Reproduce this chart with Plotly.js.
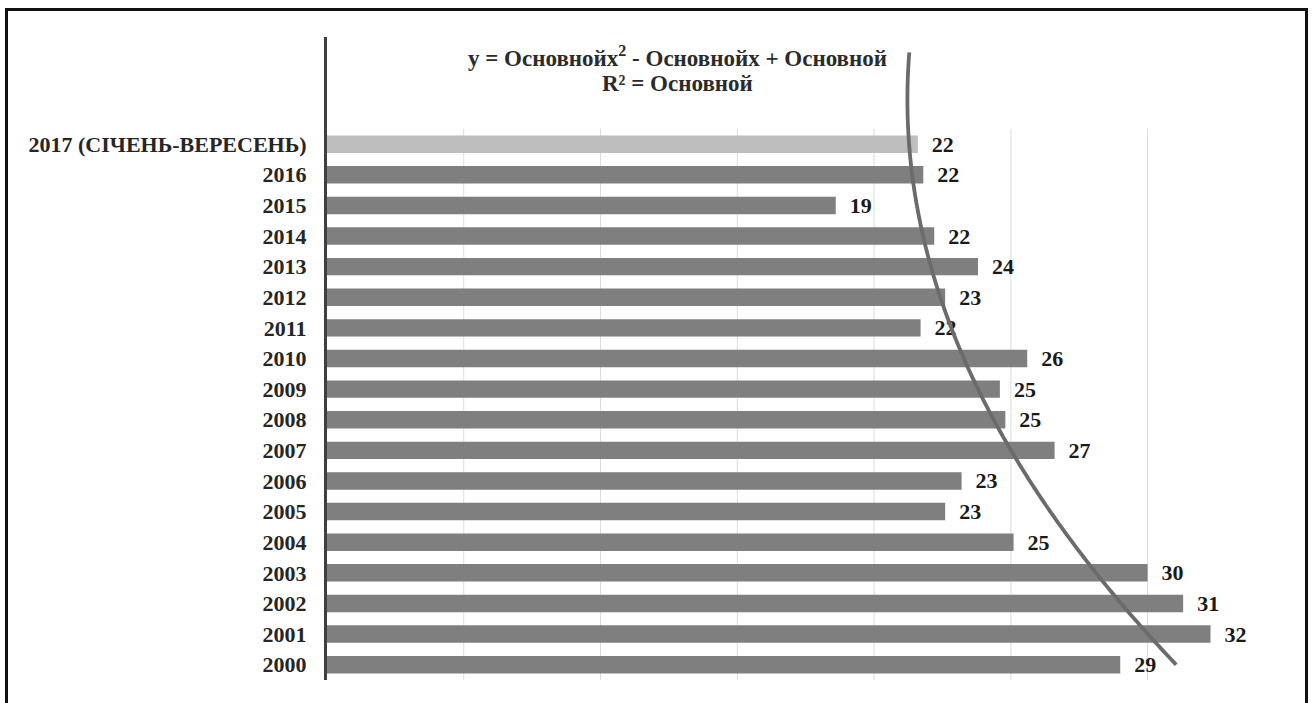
<!DOCTYPE html>
<html>
<head>
<meta charset="utf-8">
<script src="https://cdn.plot.ly/plotly-3.0.1.min.js"></script>
<style>
  html, body { margin: 0; padding: 0; background: #ffffff; overflow: hidden; }
  #chart { width: 1314px; height: 703px; position: absolute; left: 0; top: 0; }
  #frame { position: absolute; left: 5px; top: 8px; width: 1303px; height: 720px;
           border: 3px solid #111; box-sizing: border-box; pointer-events: none; }
</style>
</head>
<body>
<div id="chart"></div>
<div id="frame"></div>
<script>
// Categories from bottom (2000) to top (2017 Jan-Sep)
const categories = ["2000", "2001", "2002", "2003", "2004", "2005", "2006", "2007", "2008",
                    "2009", "2010", "2011", "2012", "2013", "2014", "2015", "2016",
                    "2017 (СІЧЕНЬ-ВЕРЕСЕНЬ)"];
const values = [29.0, 32.3, 31.3, 30.0, 25.1, 22.6, 23.2, 26.6, 24.8,
                24.6, 25.6, 21.7, 22.6, 23.8, 22.2, 18.6, 21.8, 21.6];
const highlightCategory = "2017 (СІЧЕНЬ-ВЕРЕСЕНЬ)";
const forecastPeriods = 3;
const gridStep = 5;
const equationLine = "y = Основнойx<sup>2</sup> - Основнойx + Основной";
const r2Line = "R² = Основной";

const idx = categories.map((c, i) => i + 1);
const barColors = categories.map(c => c === highlightCategory ? "#bebebe" : "#7f7f7f");

// Polynomial (order 2) least-squares trendline on category index
function polyFit2(xs, ys) {
  let s = [0, 0, 0, 0, 0], t = [0, 0, 0];
  for (let k = 0; k < xs.length; k++) {
    const x = xs[k], y = ys[k];
    let p = 1;
    for (let j = 0; j < 5; j++) { s[j] += p; if (j < 3) t[j] += p * y; p *= x; }
  }
  const A = [[s[0], s[1], s[2], t[0]], [s[1], s[2], s[3], t[1]], [s[2], s[3], s[4], t[2]]];
  for (let i = 0; i < 3; i++) {
    let piv = i;
    for (let r = i + 1; r < 3; r++) if (Math.abs(A[r][i]) > Math.abs(A[piv][i])) piv = r;
    [A[i], A[piv]] = [A[piv], A[i]];
    for (let r = 0; r < 3; r++) {
      if (r === i) continue;
      const f = A[r][i] / A[i][i];
      for (let c = i; c < 4; c++) A[r][c] -= f * A[i][c];
    }
  }
  return [A[0][3] / A[0][0], A[1][3] / A[1][1], A[2][3] / A[2][2]];
}
const coef = polyFit2(idx, values);
const trendY = [], trendX = [];
const tStart = 1, tEnd = categories.length + forecastPeriods;
for (let k = 0; k <= 200; k++) {
  const ti = tStart + (tEnd - tStart) * k / 200;
  trendY.push(ti);
  trendX.push(coef[0] + coef[1] * ti + coef[2] * ti * ti);
}

// Vertical gridlines only across the category band
const gridShapes = [];
const maxVal = Math.max(...values);
for (let g = gridStep; g <= maxVal; g += gridStep) {
  gridShapes.push({
    type: "line", xref: "x", yref: "y", layer: "below",
    x0: g, x1: g, y0: 0.5, y1: categories.length + 0.5,
    line: { color: "#dcdcdc", width: 1 }
  });
}

const serif = "Liberation Serif, Times New Roman, serif";

const bars = {
  type: "bar",
  orientation: "h",
  y: idx,
  x: values,
  marker: { color: barColors, line: { width: 0 } },
  width: 0.57,
  texttemplate: "\u00a0\u00a0%{x:.0f}",
  textposition: "outside",
  constraintext: "none",
  cliponaxis: false,
  textfont: { family: serif, size: 22, color: "#1a1a1a", weight: "bold" },
  hoverinfo: "skip",
  showlegend: false
};

const trend = {
  type: "scatter",
  mode: "lines",
  x: trendX,
  y: trendY,
  line: { color: "#6b6b6b", width: 3.8, shape: "spline" },
  hoverinfo: "skip",
  showlegend: false,
  cliponaxis: false
};

const layout = {
  width: 1314,
  height: 703,
  margin: { l: 327, r: 57, t: 37, b: 23 },
  paper_bgcolor: "rgba(0,0,0,0)",
  plot_bgcolor: "rgba(0,0,0,0)",
  showlegend: false,
  shapes: gridShapes,
  xaxis: {
    range: [0, 34],
    showgrid: false,
    zeroline: false,
    showline: false,
    showticklabels: false,
    ticks: "",
    fixedrange: true
  },
  yaxis: {
    range: [0.5, categories.length + forecastPeriods + 0.5],
    tickvals: idx,
    ticktext: categories,
    showgrid: false,
    zeroline: false,
    showline: true,
    linecolor: "#3f3f3f",
    linewidth: 3,
    ticks: "",
    ticklabelstandoff: 13,
    tickfont: { family: serif, size: 22, color: "#262626", weight: "bold" },
    fixedrange: true
  },
  annotations: [
    {
      xref: "paper", yref: "paper",
      x: 0.377, y: 0.969,
      xanchor: "center", yanchor: "middle",
      text: equationLine,
      showarrow: false,
      font: { family: serif, size: 23, color: "#2b2b2b", weight: "bold" }
    },
    {
      xref: "paper", yref: "paper",
      x: 0.377, y: 0.928,
      xanchor: "center", yanchor: "middle",
      text: r2Line,
      showarrow: false,
      font: { family: serif, size: 23, color: "#2b2b2b", weight: "bold" }
    }
  ]
};

Plotly.newPlot("chart", [bars, trend], layout, { displayModeBar: false, staticPlot: true });
</script>
</body>
</html>
